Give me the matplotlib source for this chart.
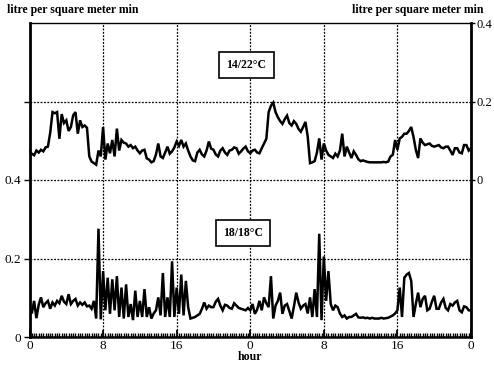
import numpy as np
import matplotlib
matplotlib.use("Agg")
import matplotlib.pyplot as plt
from matplotlib.ticker import MultipleLocator

plt.rcParams['font.family'] = ['Liberation Serif', 'DejaVu Serif']

# time axis: 48 hours, readings every 15 min
hours = np.arange(0, 48.001, 0.25)

# upper series 14/22 °C (right-axis units, litre per square meter min)
upper = [
    0.073, 0.067, 0.063, 0.075, 0.070, 0.077, 0.073, 0.083,
    0.085, 0.120, 0.173, 0.170, 0.173, 0.105, 0.168, 0.145,
    0.152, 0.125, 0.135, 0.165, 0.173, 0.118, 0.152, 0.135,
    0.139, 0.133, 0.060, 0.047, 0.043, 0.039, 0.075, 0.060,
    0.135, 0.052, 0.093, 0.068, 0.102, 0.060, 0.131, 0.075,
    0.102, 0.095, 0.093, 0.085, 0.089, 0.081, 0.085, 0.075,
    0.068, 0.075, 0.077, 0.055, 0.052, 0.045, 0.048, 0.065,
    0.093, 0.060, 0.056, 0.070, 0.085, 0.067, 0.073, 0.083,
    0.098, 0.087, 0.102, 0.085, 0.093, 0.075, 0.060, 0.050,
    0.048, 0.070, 0.077, 0.065, 0.060, 0.075, 0.098, 0.080,
    0.077, 0.065, 0.060, 0.075, 0.081, 0.070, 0.064, 0.075,
    0.077, 0.083, 0.081, 0.067, 0.073, 0.080, 0.085, 0.073,
    0.068, 0.075, 0.077, 0.070, 0.068, 0.081, 0.093, 0.105,
    0.173, 0.189, 0.197, 0.173, 0.160, 0.150, 0.143, 0.155,
    0.164, 0.145, 0.139, 0.150, 0.143, 0.130, 0.123, 0.135,
    0.148, 0.110, 0.043, 0.045, 0.048, 0.070, 0.106, 0.052,
    0.093, 0.075, 0.064, 0.060, 0.056, 0.067, 0.060, 0.075,
    0.118, 0.060, 0.085, 0.070, 0.056, 0.073, 0.064, 0.053,
    0.048, 0.050, 0.048, 0.046, 0.045, 0.045, 0.045, 0.045,
    0.045, 0.045, 0.046, 0.045, 0.047, 0.060, 0.064, 0.102,
    0.077, 0.106, 0.110, 0.118, 0.118, 0.125, 0.135, 0.110,
    0.077, 0.056, 0.106, 0.095, 0.089, 0.091, 0.093, 0.087,
    0.085, 0.087, 0.089, 0.083, 0.081, 0.085, 0.085, 0.075,
    0.064, 0.081, 0.081, 0.070, 0.068, 0.089, 0.089, 0.075,
    0.081,
]

# lower series 18/18 °C (left-axis units)
lower = [
    0.072, 0.060, 0.092, 0.048, 0.082, 0.101, 0.076, 0.086,
    0.092, 0.072, 0.088, 0.080, 0.092, 0.086, 0.105, 0.090,
    0.084, 0.109, 0.084, 0.092, 0.097, 0.080, 0.088, 0.082,
    0.088, 0.078, 0.080, 0.072, 0.092, 0.047, 0.276, 0.045,
    0.168, 0.068, 0.151, 0.059, 0.147, 0.068, 0.155, 0.051,
    0.126, 0.047, 0.134, 0.051, 0.084, 0.043, 0.118, 0.051,
    0.092, 0.051, 0.122, 0.051, 0.076, 0.047, 0.060, 0.068,
    0.101, 0.055, 0.163, 0.051, 0.101, 0.051, 0.193, 0.051,
    0.126, 0.059, 0.159, 0.055, 0.143, 0.076, 0.047, 0.049,
    0.051, 0.055, 0.059, 0.072, 0.088, 0.072, 0.080, 0.076,
    0.076, 0.090, 0.097, 0.080, 0.068, 0.082, 0.080, 0.074,
    0.072, 0.086, 0.080, 0.074, 0.072, 0.070, 0.068, 0.074,
    0.068, 0.084, 0.059, 0.070, 0.092, 0.068, 0.101, 0.086,
    0.076, 0.155, 0.047, 0.080, 0.092, 0.113, 0.059, 0.080,
    0.084, 0.066, 0.047, 0.078, 0.113, 0.088, 0.072, 0.080,
    0.084, 0.060, 0.101, 0.051, 0.122, 0.051, 0.263, 0.043,
    0.205, 0.092, 0.168, 0.084, 0.068, 0.080, 0.076, 0.060,
    0.051, 0.055, 0.047, 0.051, 0.051, 0.055, 0.059, 0.050,
    0.049, 0.050, 0.048, 0.049, 0.047, 0.049, 0.047, 0.047,
    0.047, 0.049, 0.047, 0.048, 0.049, 0.052, 0.055, 0.060,
    0.068, 0.126, 0.051, 0.151, 0.159, 0.163, 0.143, 0.051,
    0.084, 0.113, 0.076, 0.097, 0.105, 0.068, 0.072, 0.090,
    0.105, 0.072, 0.072, 0.088, 0.097, 0.074, 0.068, 0.084,
    0.080, 0.088, 0.092, 0.068, 0.063, 0.078, 0.076, 0.068,
    0.0675,
]

xtick_pos = [0, 8, 16, 24, 32, 40, 48]
xtick_labels = ['0', '8', '16', '0', '8', '16', '0']
left_ticks = [0, 0.2, 0.4, 0.6]
left_labels = ['0', '0.2', '0.4', '']
right_ticks = [0, 0.2, 0.4]
right_labels = ['0', '0.2', '0.4']
unit_label = 'litre per square meter min'
series_names = ['14/22°C', '18/18°C']

fig = plt.figure(figsize=(4.94, 3.69), dpi=100)
ax = fig.add_axes([29.5 / 494, 32 / 369, 441.5 / 494, 314 / 369])

ax.plot(hours, lower, color='black', lw=1.8, solid_joinstyle='miter')
ax.set_xlim(0, 48)
ax.set_ylim(0, 0.8)
ax.set_xticks(xtick_pos)
ax.set_xticklabels(xtick_labels, fontsize=9.5)
ax.xaxis.set_minor_locator(MultipleLocator(0.25))
ax.tick_params(axis='x', which='major', direction='in', length=5, width=1.3, pad=2)
ax.tick_params(axis='x', which='minor', direction='in', length=3, width=1.0)
ax.set_yticks(left_ticks)
ax.set_yticklabels(left_labels, fontsize=9.5)
ax.tick_params(axis='y', direction='out', length=4, width=1, pad=2)

ax.grid(True, which='major', color='black', linestyle=(0, (1.5, 1.2)), linewidth=0.9)

for side, lw in [('left', 2.0), ('right', 2.0), ('bottom', 1.8), ('top', 1.0)]:
    ax.spines[side].set_linewidth(lw)

ax2 = ax.twinx()
ax2.plot(hours, upper, color='black', lw=1.8, solid_joinstyle='miter')
ax2.set_ylim(-0.4, 0.4)
ax2.set_yticks(right_ticks)
ax2.set_yticklabels(right_labels, fontsize=9)
ax2.tick_params(axis='y', direction='out', length=3, width=1, pad=1)
for side in ['left', 'right', 'bottom', 'top']:
    ax2.spines[side].set_visible(False)

box = dict(boxstyle='square,pad=0.6', facecolor='white', edgecolor='black', linewidth=1.2)
ax.text(23.6, 0.693, series_names[0], ha='center', va='center', fontsize=8.5,
        fontweight='bold', bbox=box, zorder=5)
ax.text(23.2, 0.265, series_names[1], ha='center', va='center', fontsize=8.5,
        fontweight='bold', bbox=box, zorder=5)

fig.text(7 / 494, 1 - 10 / 369, unit_label, ha='left', va='center', fontsize=8.5, fontweight='bold')
fig.text(483 / 494, 1 - 10 / 369, unit_label, ha='right', va='center', fontsize=8.5, fontweight='bold')
fig.text(250 / 494, 1 - 357 / 369, 'hour', ha='center', va='center', fontsize=8.5, fontweight='bold')

fig.savefig('out.png', dpi=100)
